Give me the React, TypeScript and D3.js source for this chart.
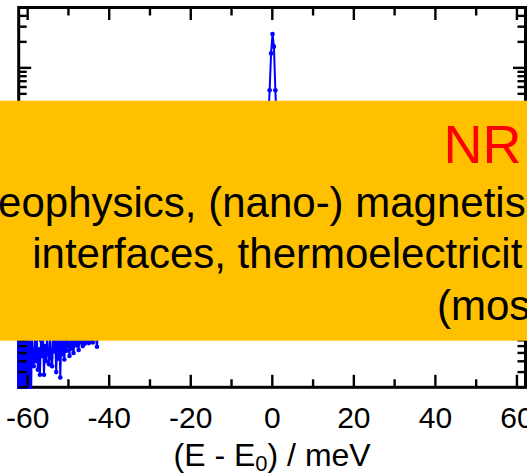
import React from "react";
import * as d3 from "d3";

const W = 527;
const H = 475;

// Energy transfer (meV) and detector counts of the nuclear resonant spectrum
const energies: number[] = [
  -62.5, -62.25, -62, -61.75, -61.5, -61.25, -61, -60.75, -60.5, -60.25,
  -60, -59.75, -59.5, -59.25, -59,
  -58.75, -58.5, -58.25, -58, -57.75, -57.5, -57.25, -57,
  -56.75, -56.5, -56.25, -56, -55.75, -55.5, -55.25, -55,
  -54.75, -54.5, -54.25, -54, -53.75, -53.5, -53.25, -53,
  -52.75, -52.5, -52.25, -52, -51.75, -51.5, -51.25, -51,
  -50.75, -50.5, -50.25, -50, -49.75, -49.5, -49.25, -49,
  -48.75, -48.5, -48.25, -48, -47.75, -47.5, -47.25, -47,
  -46.75, -46.5, -46.25, -46, -45.75, -45.5, -45.25, -45,
  -44.75, -44.5, -44.25, -44, -43.75, -43.5, -43.25, -43,
  -42.5, -42, -41, -40, -39, -38, -37, -36, -35, -34,
  -33, -32, -31, -30, -29, -28, -27, -26, -25, -24,
  -23, -22, -21, -20, -19, -18, -17, -16, -15, -14,
  -13, -12, -11, -10, -9, -8, -7, -6, -5, -4,
  -3, -2,
  -1.5, -1.05, -0.65, -0.3, 0.05, 0.4, 0.75, 1.1, 1.5,
  2, 4, 6, 8, 10, 12, 14, 16, 18, 20,
  22, 24, 26, 28, 30, 32, 34, 36, 38, 40,
  42, 44, 46, 48, 50, 52, 54, 56, 58, 60, 62,
];

const counts: number[] = [
  11, 0, 9, 0, 12, 0, 8, 0, 10, 0,
  9, 0, 12, 0, 8,
  4.5, 3.5, 7.5, 4.0, 8, 3.2, 5.5, 2.8,
  7, 4.6, 9, 2.8, 6, 4.0, 8, 5.0,
  3.7, 7.5, 4.4, 3.5, 8.5, 5.2, 7, 3.0,
  6.5, 4.3, 9, 2.6, 7.5, 4.8, 8, 4.2,
  7, 5.3, 8, 6.2, 4.6, 7.5, 5.6, 9,
  5.0, 7, 8.5, 6.1, 10, 5.4, 8, 6.6,
  9, 6.0, 11, 6.4, 8, 6.8, 10, 6.5,
  9, 6.9, 12, 6.6, 8, 10, 7.5, 5.9,
  14, 12, 15, 13, 18, 16, 21, 19, 25, 29,
  27, 34, 40, 37, 46, 53, 60, 68, 80, 74,
  88, 105, 125, 118, 140, 165, 155, 185, 220, 250,
  235, 270, 300, 285, 330, 370, 410, 450, 490, 550,
  640, 800,
  1200, 2300, 5500, 14700, 24700, 17600, 5500, 2100, 1100,
  850, 640, 560, 500, 455, 420, 385, 345, 310, 270,
  240, 215, 185, 155, 132, 110, 92, 77, 64, 54,
  46, 39, 34, 30, 27, 24, 22, 20, 18, 17, 16,
];

const xMajorTicks = [-60, -40, -20, 0, 20, 40, 60];
const xMinorTicks = [-50, -30, -10, 10, 30, 50];
const xDomain: [number, number] = [-62.2, 62.1];
const yDomain: [number, number] = [2, 5e4];

const xLabelMain = "(E - E";
const xLabelSub = "0";
const xLabelTail = ") / meV";

const bannerTitle = "NR";
const bannerLines = [
  "eophysics, (nano-) magnetis",
  "interfaces, thermoelectricit",
  "(mos",
];

const FONT = "'Liberation Sans', Arial, sans-serif";

export default function App() {
  const left = 18.7;
  const right = 525.5;
  const top = 7.5;
  const bottom = 387.3;

  const x = d3.scaleLinear().domain(xDomain).range([left, right]);
  const y = d3.scaleLog().domain(yDomain).range([bottom, top]);

  const pts = energies.map((e, i) => ({ e, c: counts[i] }));
  // zero counts fall below the log axis and are clipped away
  const yOf = (c: number) => y(Math.max(c, 0.5));

  const line = d3
    .line<{ e: number; c: number }>()
    .x((d) => x(d.e))
    .y((d) => yOf(d.c));

  // log ticks: majors at decades, minors at 2..9
  const yTicks: { v: number; major: boolean }[] = [];
  for (let k = 0; k <= 5; k++) {
    for (let m = 1; m <= 9; m++) {
      const v = m * Math.pow(10, k);
      if (v >= yDomain[0] && v <= yDomain[1]) yTicks.push({ v, major: m === 1 });
    }
  }

  const majLen = 12.5;
  const minLen = 8;
  const tickW = 2.4;

  return (
    <svg
      width={W}
      height={H}
      viewBox={`0 0 ${W} ${H}`}
      style={{ position: "absolute", left: 0, top: 0, background: "#fff" }}
    >
      <defs>
        <clipPath id="plot-clip">
          <rect x={left - 1.6} y={top - 1.6} width={right - left + 3.2} height={bottom - top + 3.2} />
        </clipPath>
      </defs>

      {/* frame */}
      <rect
        x={left}
        y={top}
        width={right - left}
        height={bottom - top}
        fill="none"
        stroke="#000"
        strokeWidth={3}
      />

      {/* spectrum */}
      <g clipPath="url(#plot-clip)">
        <path d={line(pts) || ""} fill="none" stroke="#0000ff" strokeWidth={2} strokeLinejoin="round" />
        {pts.map((d, i) => (
          <circle key={i} cx={x(d.e)} cy={yOf(d.c)} r={2.3} fill="#0000ff" />
        ))}
      </g>

      {/* ticks on all four sides, pointing inward */}
      <g stroke="#000" strokeWidth={tickW}>
        {xMajorTicks.map((t) => (
          <g key={"M" + t}>
            <line x1={x(t)} x2={x(t)} y1={bottom} y2={bottom - majLen} />
            <line x1={x(t)} x2={x(t)} y1={top} y2={top + majLen} />
          </g>
        ))}
        {xMinorTicks.map((t) => (
          <g key={"m" + t}>
            <line x1={x(t)} x2={x(t)} y1={bottom} y2={bottom - minLen} />
            <line x1={x(t)} x2={x(t)} y1={top} y2={top + minLen} />
          </g>
        ))}
        {yTicks.map((t) => {
          const len = t.major ? majLen : minLen;
          return (
            <g key={"y" + t.v}>
              <line x1={left} x2={left + len} y1={y(t.v)} y2={y(t.v)} />
              <line x1={right} x2={right - len} y1={y(t.v)} y2={y(t.v)} />
            </g>
          );
        })}
      </g>

      {/* x tick labels */}
      <g fontFamily={FONT} fontSize={30} fill="#000" textAnchor="middle">
        {xMajorTicks.map((t) => (
          <text key={"l" + t} x={x(t)} y={428}>
            {t}
          </text>
        ))}
      </g>

      {/* x axis title */}
      <text x={(left + right) / 2} y={466} fontFamily={FONT} fontSize={32} textAnchor="middle" fill="#000">
        {xLabelMain}
        <tspan fontSize={22} dy={5}>
          {xLabelSub}
        </tspan>
        <tspan dy={-5}>{xLabelTail}</tspan>
      </text>

      {/* banner */}
      <rect x={0} y={100.7} width={W} height={240} fill="#ffc000" />
      <text x={443.6} y={162.7} fontFamily={FONT} fontSize={54} fill="#ff0000">
        {bannerTitle}
      </text>
      <g fontFamily={FONT} fontSize={42} fill="#000">
        <text x={-1.9} y={216.7}>
          {bannerLines[0]}
        </text>
        <text x={32.2} y={268.3}>
          {bannerLines[1]}
        </text>
        <text x={437} y={320}>
          {bannerLines[2]}
        </text>
      </g>
    </svg>
  );
}
